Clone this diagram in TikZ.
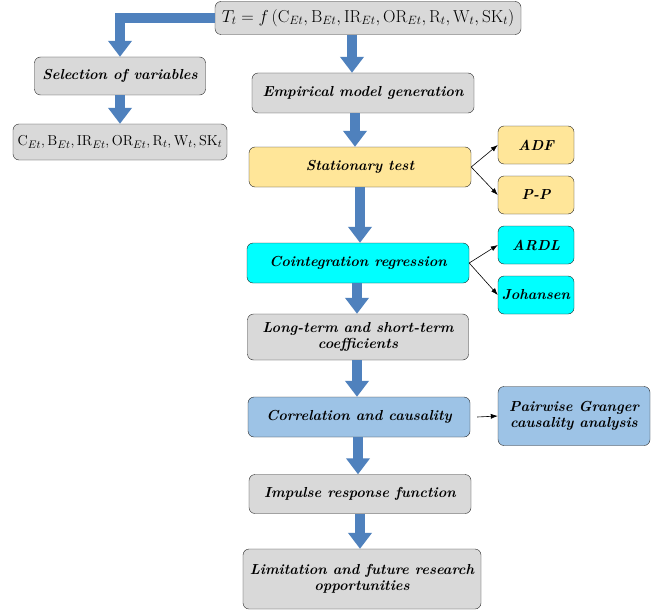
\documentclass[tikz,border=0pt]{standalone}
\usepackage{tikz}
\usetikzlibrary{arrows.meta}

\begin{document}
\begin{tikzpicture}[x=1pt,y=-1pt]
      \definecolor{boxgray}{RGB}{217,217,217}
      \definecolor{boxyellow}{RGB}{255,230,153}
      \definecolor{boxcyan}{RGB}{0,255,255}
      \definecolor{boxblue}{RGB}{157,195,230}
      \definecolor{arrowblue}{RGB}{79,129,189}
      \tikzset{
        stepbox/.style={draw=black!85, rounded corners=6pt, align=center,
          font=\fontsize{14.5}{16}\selectfont\bfseries\itshape, inner sep=2pt},
        bigarrow/.style={draw=arrowblue, line width=10pt,
          -{Triangle[width=23pt,length=16pt]}},
        smallarrow/.style={draw=black, semithick, -{Latex[length=7pt,width=5pt]}}
      }

      \path[fill=white, use as bounding box] (0,0) rectangle (663,615);

      % main chain
      \node[stepbox, fill=boxgray, minimum width=306pt, minimum height=33pt,
        font=\fontsize{16.5}{18}\selectfont] (model) at (368,18)
        {$T_t = f\,(\mathrm{C}_{Et}, \mathrm{B}_{Et}, \mathrm{IR}_{Et}, \mathrm{OR}_{Et}, \mathrm{R}_t, \mathrm{W}_t, \mathrm{SK}_t)$};
      \node[stepbox, fill=boxgray, minimum width=171pt, minimum height=38pt] (select) at (120,76) {Selection of variables};
      \node[stepbox, fill=boxgray, minimum width=214pt, minimum height=36pt,
        font=\fontsize{15}{17}\selectfont] (vars) at (120,142)
        {$\mathrm{C}_{Et}, \mathrm{B}_{Et}, \mathrm{IR}_{Et}, \mathrm{OR}_{Et}, \mathrm{R}_t, \mathrm{W}_t, \mathrm{SK}_t$};
      \node[stepbox, fill=boxgray, minimum width=222pt, minimum height=40pt] (empir) at (363,93) {Empirical model generation};
      \node[stepbox, fill=boxyellow, minimum width=222pt, minimum height=40pt] (station) at (360,167) {Stationary test};
      \node[stepbox, fill=boxcyan, minimum width=222pt, minimum height=40pt] (coint) at (358,263) {Cointegration regression};
      \node[stepbox, fill=boxgray, minimum width=221pt, minimum height=46pt] (coeff) at (358,337) {Long-term and short-term\\coefficients};
      \node[stepbox, fill=boxblue, minimum width=222pt, minimum height=40pt] (corr) at (359,417) {Correlation and causality};
      \node[stepbox, fill=boxgray, minimum width=222pt, minimum height=39pt] (impulse) at (360,494) {Impulse response function};
      \node[stepbox, fill=boxgray, minimum width=238pt, minimum height=60pt] (limit) at (362,579) {Limitation and future research\\opportunities};

      % side boxes
      \node[stepbox, fill=boxyellow, minimum width=76pt, minimum height=38pt] (adf) at (536,145) {ADF};
      \node[stepbox, fill=boxyellow, minimum width=76pt, minimum height=38pt] (pp) at (536,195) {P-P};
      \node[stepbox, fill=boxcyan, minimum width=76pt, minimum height=38pt] (ardl) at (536,245) {ARDL};
      \node[stepbox, fill=boxcyan, minimum width=76pt, minimum height=38pt] (johan) at (536,295) {Johansen};
      \node[stepbox, fill=boxblue, minimum width=152pt, minimum height=59pt] (granger) at (574,416) {Pairwise Granger\\causality analysis};

      % block arrows
      \draw[bigarrow] (model.south -| 352,0) -- (empir.north -| 352,0);
      \draw[bigarrow] (empir.south -| 355,0) -- (station.north -| 355,0);
      \draw[bigarrow] (station.south -| 360,0) -- (coint.north -| 360,0);
      \draw[bigarrow] (coint.south -| 357,0) -- (coeff.north -| 357,0);
      \draw[bigarrow] (coeff.south -| 357,0) -- (corr.north -| 357,0);
      \draw[bigarrow] (corr.south -| 358,0) -- (impulse.north -| 358,0);
      \draw[bigarrow] (impulse.south -| 360,0) -- (limit.north -| 360,0);
      \draw[bigarrow] (select.south) -- (vars.north);
      \draw[bigarrow] (model.west) -| (select.north);

      % thin arrows
      \draw[smallarrow] (station.east) -- (adf.west);
      \draw[smallarrow] (station.east) -- (pp.west);
      \draw[smallarrow] (coint.east) -- (ardl.west);
      \draw[smallarrow] (coint.east) -- (johan.west);
      \draw[smallarrow] ([xshift=7pt]corr.east) -- (granger.west);

    \end{tikzpicture}
\end{document}
